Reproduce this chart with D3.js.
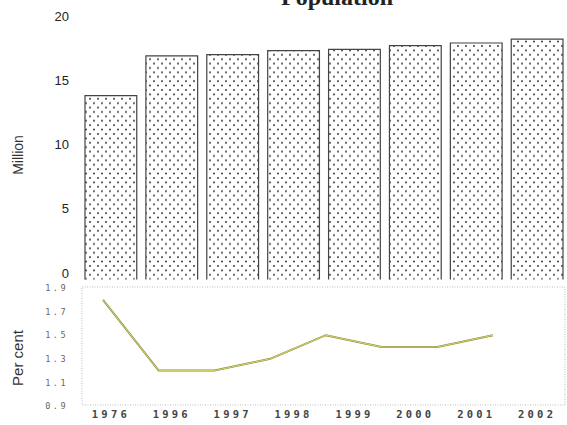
<!DOCTYPE html>
<html lang="en">
<head>
  <meta charset="UTF-8" />
  <title>Population</title>
  <style>
    body { margin: 0; background: #fff; }
    svg { display: block; }
  </style>
  <script src="https://cdn.jsdelivr.net/npm/d3@7"></script>
</head>
<body>
<script>
  const years = ["1976", "1996", "1997", "1998", "1999", "2000", "2001", "2002"];
  const population = [13.8, 16.9, 17.0, 17.3, 17.4, 17.7, 17.9, 18.2];
  const growth = [1.8, 1.2, 1.2, 1.3, 1.5, 1.4, 1.4, 1.5];
  const popTicks = [0, 5, 10, 15, 20];
  const growthTicks = [0.9, 1.1, 1.3, 1.5, 1.7, 1.9];

  const width = 567, height = 425;

  const svg = d3.select("body").append("svg")
    .attr("width", width)
    .attr("height", height);

  // dotted fill for the bars
  const pat = svg.append("defs").append("pattern")
    .attr("id", "dots")
    .attr("patternUnits", "userSpaceOnUse")
    .attr("width", 8)
    .attr("height", 8.8);
  pat.append("circle").attr("cx", 2).attr("cy", 2).attr("r", 0.95).attr("fill", "#2a2a2a");
  pat.append("circle").attr("cx", 6).attr("cy", 6.4).attr("r", 0.95).attr("fill", "#2a2a2a");

  // title, cut off at the top edge like the source
  svg.append("text")
    .attr("x", 337)
    .attr("y", 5)
    .attr("text-anchor", "middle")
    .attr("font-family", "Liberation Serif, serif")
    .attr("font-weight", "bold")
    .attr("font-size", 24)
    .attr("fill", "#222")
    .text("Population");

  // upper panel: population bars
  const x = d3.scaleBand()
    .domain(years)
    .range([85, 563])
    .paddingInner(0.15)
    .paddingOuter(0);

  const yPop = d3.scaleLinear()
    .domain([-0.5, 20])
    .range([279.5, 16]);

  const bars = svg.append("g");
  bars.selectAll("rect")
    .data(years)
    .join("rect")
    .attr("x", d => x(d))
    .attr("y", (d, i) => yPop(population[i]))
    .attr("width", x.bandwidth())
    .attr("height", (d, i) => yPop(-0.5) - yPop(population[i]))
    .attr("fill", "url(#dots)");

  bars.selectAll("path")
    .data(years)
    .join("path")
    .attr("d", (d, i) => {
      const x0 = x(d), x1 = x(d) + x.bandwidth();
      const y0 = yPop(-0.5), y1 = yPop(population[i]);
      return `M${x0},${y0}V${y1}H${x1}V${y0}`;
    })
    .attr("fill", "none")
    .attr("stroke", "#444")
    .attr("stroke-width", 1.2);

  const popAxis = svg.append("g")
    .attr("transform", "translate(69,0)")
    .call(d3.axisLeft(yPop).tickValues(popTicks).tickSize(0).tickPadding(0));
  popAxis.select(".domain").remove();
  popAxis.selectAll("text")
    .attr("font-family", "Liberation Sans, Arial, sans-serif")
    .attr("font-size", 13)
    .attr("fill", "#222");

  svg.append("text")
    .attr("transform", "translate(23,155) rotate(-90)")
    .attr("text-anchor", "middle")
    .attr("font-family", "Liberation Sans, Arial, sans-serif")
    .attr("font-size", 14)
    .attr("fill", "#333")
    .text("Million");

  // lower panel: growth rate line
  const xLine = d3.scalePoint()
    .domain(years)
    .range([103, 493]);

  const yGrowth = d3.scaleLinear()
    .domain([0.9, 1.9])
    .range([406, 288]);

  svg.append("rect")
    .attr("x", 82)
    .attr("y", 287)
    .attr("width", 483)
    .attr("height", 118)
    .attr("fill", "#fff")
    .attr("stroke", "#bbb")
    .attr("stroke-width", 1)
    .attr("stroke-dasharray", "1,1.5");

  const line = d3.line()
    .x((d, i) => xLine(years[i]))
    .y(d => yGrowth(d));

  svg.append("path")
    .datum(growth)
    .attr("d", line)
    .attr("fill", "none")
    .attr("stroke", "#8a8a40")
    .attr("stroke-width", 2);

  svg.append("path")
    .datum(growth)
    .attr("d", line)
    .attr("fill", "none")
    .attr("stroke", "#d4d66e")
    .attr("stroke-width", 1);

  const growthAxis = svg.append("g")
    .attr("transform", "translate(68,0)")
    .call(d3.axisLeft(yGrowth).tickValues(growthTicks).tickSize(0).tickPadding(0)
      .tickFormat(d3.format(".1f")));
  growthAxis.select(".domain").remove();
  growthAxis.selectAll("text")
    .attr("font-family", "DejaVu Sans Mono, monospace")
    .attr("font-size", 8.5)
    .attr("letter-spacing", 2.5)
    .attr("fill", "#666");

  const yearAxis = svg.append("g")
    .attr("transform", "translate(0,411)")
    .call(d3.axisBottom(x).tickSize(0).tickPadding(0));
  yearAxis.select(".domain").remove();
  yearAxis.selectAll("text")
    .attr("font-family", "DejaVu Sans Mono, monospace")
    .attr("font-size", 10.5)
    .attr("font-weight", "bold")
    .attr("letter-spacing", 3.2)
    .attr("fill", "#444");

  svg.append("text")
    .attr("transform", "translate(23,358) rotate(-90)")
    .attr("text-anchor", "middle")
    .attr("font-family", "Liberation Sans, Arial, sans-serif")
    .attr("font-size", 15)
    .attr("fill", "#333")
    .text("Per cent");
</script>
</body>
</html>
